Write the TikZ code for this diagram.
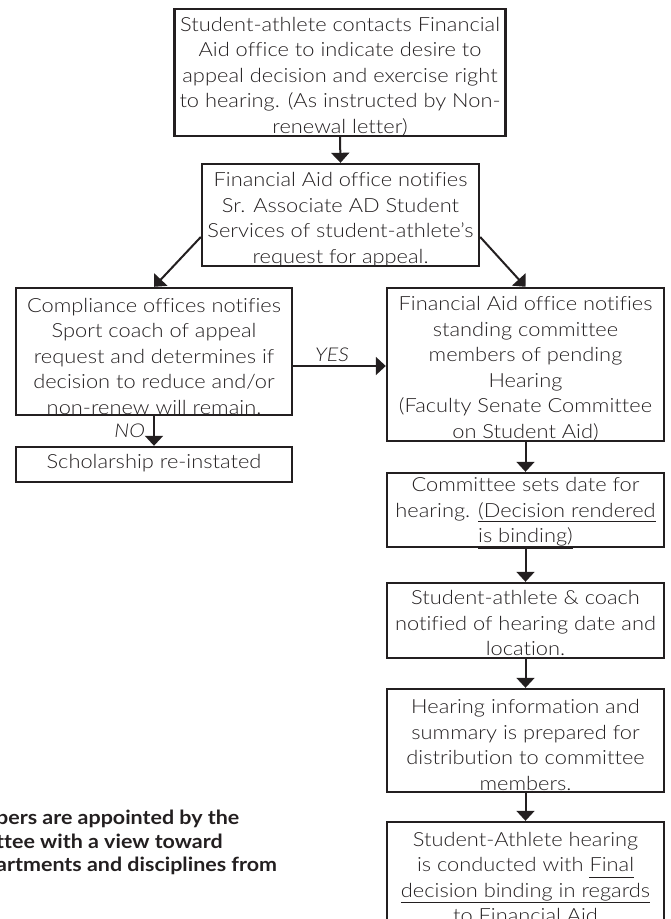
\documentclass[tikz,border=0pt]{standalone}
\usepackage{fontspec}
\IfFontExistsTF{Lato Light}
  {\setmainfont{Lato Light}[Ligatures=NoCommon, FakeStretch=1.12]}
  {\setmainfont{Lato}[Ligatures=NoCommon, FakeStretch=1.12]}
\newfontfamily\notefont{Lato}[Ligatures=NoCommon, FakeStretch=1.1]
\usepackage{tikz}
\usetikzlibrary{arrows.meta}
\definecolor{ink}{HTML}{231F20}

\begin{document}
\begin{tikzpicture}[
x=1pt, y=-1pt,
boxnode/.style={rectangle, draw=ink, line width=2.4pt},
textnode/.style={align=center, inner sep=0pt, text=ink, font=\fontsize{19.5}{25.5}\selectfont},
labelnode/.style={inner sep=3pt, text=ink, font=\fontsize{19}{22}\selectfont\itshape},
flowarrow/.style={draw=ink, line width=2pt, -{Triangle[width=18pt,length=10pt]}},
]
\path[use as bounding box, clip] (0,0) rectangle (670,919);
%Boxes
\node[boxnode, minimum width=331pt, minimum height=127pt](contact) at (340,72.5){};
\node[boxnode, minimum width=277pt, minimum height=102pt](notifyad) at (340.5,215){};
\node[boxnode, minimum width=276pt, minimum height=127pt](compliance) at (154,351.5){};
\node[boxnode, minimum width=277pt, minimum height=153pt](committee) at (525.5,364.5){};
\node[boxnode, minimum width=276pt, minimum height=35pt](reinstated) at (154,464.5){};
\node[boxnode, minimum width=277pt, minimum height=74pt](setdate) at (525.5,510){};
\node[boxnode, minimum width=277pt, minimum height=75pt](notified) at (525.5,620.5){};
\node[boxnode, minimum width=277pt, minimum height=103pt](summary) at (525.5,740.5){};
\node[boxnode, minimum width=277pt, minimum height=160pt](hearing) at (525.5,902){};

%Text
\node[textnode, yshift=-4pt](contacttext) at (contact){Student-athlete contacts Financial\\ Aid office to indicate desire to\\ appeal decision and exercise right\\ to hearing. (As instructed by Non-\\ renewal letter)};
\node[textnode, yshift=-4.5pt](notifyadtext) at (notifyad){Financial Aid office notifies\\ Sr. Associate AD Student\\ Services of student-athlete’s\\ request for appeal.};
\node[textnode, yshift=-4.5pt](compliancetext) at (compliance){Compliance offices notifies\\ Sport coach of appeal\\ request and determines if\\ decision to reduce and/or\\ non-renew will remain.};
\node[textnode, yshift=-4pt](committeetext) at (committee){Financial Aid office notifies\\ standing committee\\ members of pending\\ Hearing\\ (Faculty Senate Committee\\ on Student Aid)};
\node[textnode, yshift=1.5pt](reinstatedtext) at (reinstated){Scholarship re-instated};
\node[textnode, yshift=-3pt](setdatetext) at (setdate){Committee sets date for\\ hearing. \underline{(Decision rendered}\\ \underline{is binding)}};
\node[textnode, yshift=-2.5pt](notifiedtext) at (notified){Student-athlete \& coach\\ notified of hearing date and\\ location.};
\node[textnode, yshift=-4.5pt](summarytext) at (summary){Hearing information and\\ summary is prepared for\\ distribution to committee\\ members.};
\node[textnode, anchor=north](hearingtext) at ([yshift=-11pt]hearing.north){Student-Athlete hearing\\ is conducted with \underline{Final\vphantom{g}}\\ \underline{decision binding in regards}\\ \underline{to Financial Aid}};
\node[align=left, inner sep=0pt, anchor=north west, text=ink, font=\notefont\fontsize{19.5}{23.5}\selectfont\bfseries](note) at (-4,810){bers are appointed by the\\ ttee with a view toward\\ artments and disciplines from};

%Arrows
\draw[flowarrow](contact.south) -- (notifyad.north);
\draw[flowarrow]([yshift=-22pt]notifyad.west) -- (compliance.north);
\draw[flowarrow]([yshift=-22pt]notifyad.east) -- (committee.north);
\draw[flowarrow]([yshift=-14.5pt]compliance.east) -- ([yshift=-14.5pt]compliance.east -| committee.west) node[labelnode, above, pos=0.42]{YES};
\draw[flowarrow](compliance.south) -- (reinstated.north) node[labelnode, left, midway, xshift=-5pt]{NO};
\draw[flowarrow](committee.south) -- (setdate.north);
\draw[flowarrow](setdate.south) -- (notified.north);
\draw[flowarrow](notified.south) -- (summary.north);
\draw[flowarrow](summary.south) -- (hearing.north);
\end{tikzpicture}
\end{document}
